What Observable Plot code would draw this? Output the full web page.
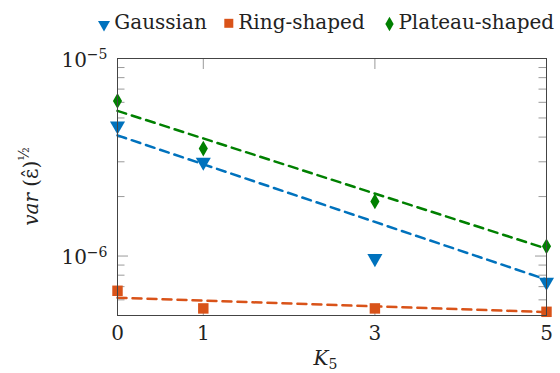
<!DOCTYPE html>
<html><head><meta charset="utf-8">
<script src="https://cdn.jsdelivr.net/npm/d3@7"></script>
<script src="https://cdn.jsdelivr.net/npm/@observablehq/plot@0.6"></script>
<style>
body{margin:0;background:#fff;font-family:"DejaVu Serif",serif;}
#legend,#chart{display:block;}
svg{display:block;}
</style></head><body><div id="legend"></div><div id="chart"></div><script>
// ---- data ----
const kValues = [0, 1, 3, 5];
const gaussian = [4.56e-6, 2.99e-6, 9.72e-7, 7.38e-7];
const ringShaped = [6.67e-7, 5.43e-7, 5.43e-7, 5.22e-7];
const plateauShaped = [6.1e-6, 3.5e-6, 1.89e-6, 1.12e-6];
const fitK = [0, 5];
const gaussianFit = [4.08e-6, 7.6e-7];
const ringFit = [6.15e-7, 5.2e-7];
const plateauFit = [5.43e-6, 1.09e-6];
const seriesNames = ["Gaussian", "Ring-shaped", "Plateau-shaped"];
const seriesColors = ["#0072BD", "#D95319", "#008000"];
const yMajorTicks = [1e-6, 1e-5];
const yTickBase = ["10", "10"];
const yTickExp = ["\u22126", "\u22125"];
const yMinorTicks = [6e-7, 7e-7, 8e-7, 9e-7, 2e-6, 3e-6, 4e-6, 5e-6, 6e-6, 7e-6, 8e-6, 9e-6];
const xTicks = [0, 1, 3, 5];

// ---- layout ----
const W = 560, LH = 40, H = 373 - LH;
const ml = 117, mr = 14, mt = 18, mb = 58;
const fw = W - ml - mr, fh = H - mt - mb;
const font = "DejaVu Serif";
const tickColor = "#9a9a9a";

const pts = (vals) => kValues.map((k, i) => ({k, v: vals[i]}));
const fit = (vals) => fitK.map((k, i) => ({k, v: vals[i]}));

const chart = Plot.plot({
  width: W, height: H,
  marginLeft: ml, marginRight: mr, marginTop: mt, marginBottom: mb,
  style: {fontFamily: font, fontSize: "20px", color: "#222", background: "#fff"},
  x: {domain: [0, 5]},
  y: {type: "log", domain: [5e-7, 1e-5]},
  marks: [
    Plot.tickY(yMinorTicks, {y: d => d, stroke: tickColor, insetRight: fw - 7.5}),
    Plot.tickY(yMinorTicks, {y: d => d, stroke: tickColor, insetLeft: fw - 7.5}),
    Plot.tickY(yMajorTicks, {y: d => d, stroke: tickColor, insetRight: fw - 11}),
    Plot.tickY(yMajorTicks, {y: d => d, stroke: tickColor, insetLeft: fw - 11}),
    Plot.tickX(xTicks, {x: d => d, stroke: tickColor, insetBottom: fh - 11}),
    Plot.tickX(xTicks, {x: d => d, stroke: tickColor, insetTop: fh - 11}),
    Plot.line(fit(gaussianFit), {x: "k", y: "v", stroke: seriesColors[0], strokeWidth: 2.5, strokeDasharray: "9,6"}),
    Plot.line(fit(ringFit), {x: "k", y: "v", stroke: seriesColors[1], strokeWidth: 2.5, strokeDasharray: "9,6"}),
    Plot.line(fit(plateauFit), {x: "k", y: "v", stroke: seriesColors[2], strokeWidth: 2.5, strokeDasharray: "9,6"}),
    Plot.dot(pts(gaussian), {x: "k", y: "v", symbol: "triangle", rotate: 180, r: 5.6, fill: seriesColors[0]}),
    Plot.dot(pts(ringShaped), {x: "k", y: "v", symbol: "square", r: 5.9, fill: seriesColors[1]}),
    Plot.dot(pts(plateauShaped), {x: "k", y: "v", symbol: "diamond", r: 4.8, fill: seriesColors[2]}),
    Plot.frame({stroke: "#444", strokeWidth: 1}),
    Plot.axisY(yMajorTicks, {tickSize: 0, tickPadding: 10, dy: 2, label: null,
      tickFormat: d => yTickBase[yMajorTicks.indexOf(d)] + yTickExp[yMajorTicks.indexOf(d)]}),
    Plot.axisX(xTicks, {tickSize: 0, tickPadding: 10, label: null, tickFormat: d => String(d)})
  ]
});
document.getElementById("chart").appendChild(chart);

const svg = d3.select(chart);
// rebuild y tick labels with a real superscript
svg.selectAll("g[aria-label='y-axis tick label'] text").each(function(d, i) {
  const t = d3.select(this);
  const idx = yTickBase.findIndex((b, j) => t.text() === b + yTickExp[j]);
  if (idx < 0) return;
  t.text("");
  t.append("tspan").text(yTickBase[idx]);
  t.append("tspan").attr("font-size", 14).attr("dy", "-0.55em").text(yTickExp[idx]);
});

// axis titles
const yl = svg.append("text")
  .attr("transform", `translate(38,${mt + fh / 2}) rotate(-90)`)
  .attr("text-anchor", "middle")
  .attr("font-family", font).attr("font-size", 20).attr("fill", "#222");
yl.append("tspan").attr("font-style", "italic").text("var");
yl.append("tspan").text(" (\u03B5\u0302)");
yl.append("tspan").attr("font-size", 14).attr("dy", -9).text("\u00BD");

const xl = svg.append("text")
  .attr("x", ml + fw / 2 - 6).attr("y", H - 8)
  .attr("text-anchor", "middle")
  .attr("font-family", font).attr("font-size", 20).attr("fill", "#222");
xl.append("tspan").attr("font-style", "italic").text("K");
xl.append("tspan").attr("font-size", 14).attr("dy", 4).text("5");

// legend
const lg = d3.select("#legend").append("svg").attr("width", W).attr("height", LH);
const legendItems = [
  {name: seriesNames[0], color: seriesColors[0], sym: d3.symbolTriangle, size: 62, rot: 180, cx: 104, cy: 24.5, tx: 114.3},
  {name: seriesNames[1], color: seriesColors[1], sym: d3.symbolSquare, size: 81, rot: 0, cx: 228.8, cy: 23.3, tx: 238.3},
  {name: seriesNames[2], color: seriesColors[2], sym: d3.symbolDiamond, size: 60, rot: 0, cx: 389.5, cy: 24, tx: 398.4}
];
for (const it of legendItems) {
  lg.append("path").attr("d", d3.symbol(it.sym, it.size)())
    .attr("transform", `translate(${it.cx},${it.cy}) rotate(${it.rot})`).attr("fill", it.color);
  lg.append("text").attr("x", it.tx).attr("y", 29.3).attr("font-family", font)
    .attr("font-size", 20).attr("fill", "#222").text(it.name);
}
</script></body></html>
